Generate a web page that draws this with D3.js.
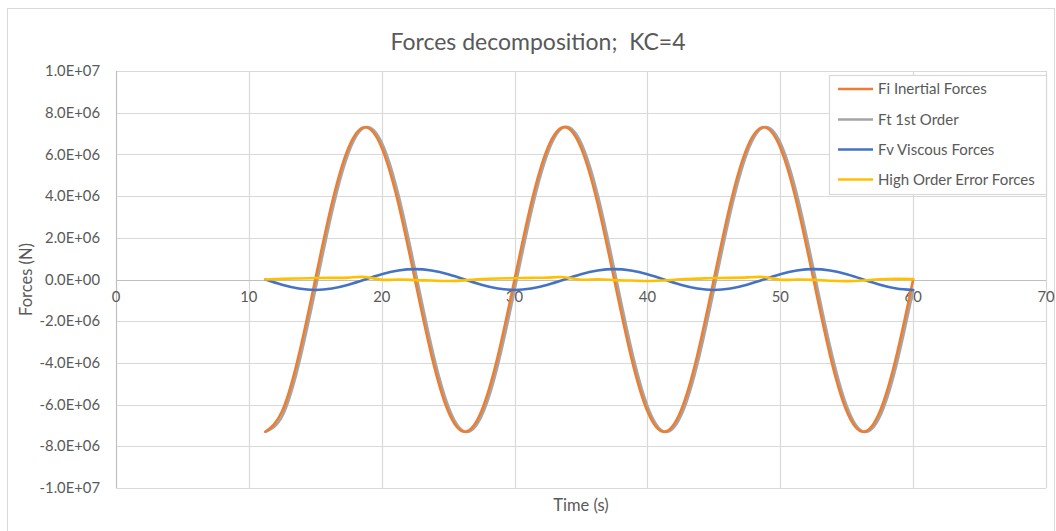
<!DOCTYPE html>
<html>
<head>
<meta charset="utf-8">
<script src="https://cdn.jsdelivr.net/npm/d3@7"></script>
<style>
  html, body { margin: 0; padding: 0; background: #ffffff; }
  svg { display: block; font-family: Lato, "Open Sans", sans-serif; }
</style>
</head>
<body>
<svg id="chart" width="1056" height="531"></svg>
<script>
// Time samples (s)
const time = [11.25, 12.5, 13.75, 15, 16.25, 17.5, 18.75, 20, 21.25, 22.5, 23.75, 25,
  26.25, 27.5, 28.75, 30, 31.25, 32.5, 33.75, 35, 36.25, 37.5, 38.75, 40,
  41.25, 42.5, 43.75, 45, 46.25, 47.5, 48.75, 50, 51.25, 52.5, 53.75, 55,
  56.25, 57.5, 58.75, 60];

// Forces, in MN
const inertial = [-7.30, -6.32, -3.65, 0.00, 3.65, 6.32, 7.30, 6.32, 3.65, 0.00, -3.65, -6.32,
  -7.30, -6.32, -3.65, 0.00, 3.65, 6.32, 7.31, 6.32, 3.65, 0.00, -3.65, -6.32,
  -7.30, -6.32, -3.65, 0.00, 3.65, 6.32, 7.30, 6.32, 3.65, 0.00, -3.65, -6.32,
  -7.30, -6.32, -3.65, 0.00];
const firstOrder = [-7.30, -6.57, -4.08, -0.50, 3.22, 6.07, 7.30, 6.57, 4.08, 0.50, -3.22, -6.07,
  -7.30, -6.57, -4.08, -0.50, 3.22, 6.07, 7.31, 6.57, 4.08, 0.50, -3.22, -6.07,
  -7.30, -6.57, -4.08, -0.50, 3.22, 6.07, 7.30, 6.57, 4.08, 0.50, -3.22, -6.07,
  -7.30, -6.57, -4.08, -0.50];
const viscous = [0.00, -0.25, -0.43, -0.50, -0.43, -0.25, 0.00, 0.25, 0.43, 0.50, 0.43, 0.25,
  0.00, -0.25, -0.43, -0.50, -0.43, -0.25, 0.00, 0.25, 0.43, 0.50, 0.43, 0.25,
  0.00, -0.25, -0.43, -0.50, -0.43, -0.25, 0.00, 0.25, 0.43, 0.50, 0.43, 0.25,
  0.00, -0.25, -0.43, -0.50];
const highOrder = [0.00, 0.03, 0.05, 0.07, 0.08, 0.09, 0.12, -0.01, 0.00, -0.03, -0.05, -0.07,
  -0.04, 0.02, 0.05, 0.06, 0.08, 0.09, 0.11, -0.01, 0.01, -0.03, -0.05, -0.07,
  -0.05, 0.01, 0.04, 0.07, 0.08, 0.10, 0.12, -0.01, 0.00, -0.02, -0.06, -0.08,
  -0.05, 0.01, 0.03, 0.02];

const seriesNames = ["Fi Inertial Forces", "Ft 1st Order", "Fv Viscous Forces", "High Order Error Forces"];
const seriesColors = ["#ED7D31", "#A5A5A5", "#4472C4", "#FFC000"];

const xTicks = [0, 10, 20, 30, 40, 50, 60, 70];
const yTicks = [-1e7, -8e6, -6e6, -4e6, -2e6, 0, 2e6, 4e6, 6e6, 8e6, 1e7];
const yTickLabels = ["-1.0E+07", "-8.0E+06", "-6.0E+06", "-4.0E+06", "-2.0E+06", "0.0E+00",
  "2.0E+06", "4.0E+06", "6.0E+06", "8.0E+06", "1.0E+07"];

const MN = 1e6;
const svg = d3.select("#chart");
const textColor = "#595959";
const gridColor = "#D9D9D9";

// chart frame
svg.append("rect")
  .attr("x", 7.5).attr("y", 8.5).attr("width", 1047).attr("height", 530)
  .attr("fill", "#fff").attr("stroke", gridColor).attr("stroke-width", 1);

const x = d3.scaleLinear().domain([0, 70]).range([116, 1046]);
const y = d3.scaleLinear().domain([-1e7, 1e7]).range([488, 71]);

// title
svg.append("text")
  .attr("x", 538).attr("y", 50)
  .attr("text-anchor", "middle")
  .attr("fill", textColor)
  .style("font-size", "23px")
  .style("white-space", "pre")
  .text("Forces decomposition;  KC=4");

// horizontal gridlines
svg.append("g").selectAll("line").data(yTicks).join("line")
  .attr("x1", x(0)).attr("x2", x(70))
  .attr("y1", d => Math.round(y(d)) + 0.5).attr("y2", d => Math.round(y(d)) + 0.5)
  .attr("stroke", gridColor).attr("stroke-width", 1.2);

// vertical gridlines
svg.append("g").selectAll("line").data(xTicks.slice(1)).join("line")
  .attr("x1", d => Math.round(x(d)) + 0.5).attr("x2", d => Math.round(x(d)) + 0.5)
  .attr("y1", y(1e7)).attr("y2", y(-1e7))
  .attr("stroke", gridColor).attr("stroke-width", 1.2);

// value axis line
svg.append("line")
  .attr("x1", x(0) + 0.5).attr("x2", x(0) + 0.5)
  .attr("y1", y(1e7)).attr("y2", y(-1e7))
  .attr("stroke", "#BFBFBF").attr("stroke-width", 1.2);

// category axis line at zero
svg.append("line")
  .attr("x1", x(0)).attr("x2", x(70))
  .attr("y1", Math.round(y(0)) + 0.5).attr("y2", Math.round(y(0)) + 0.5)
  .attr("stroke", "#BFBFBF").attr("stroke-width", 1.2);

// y tick labels
svg.append("g").selectAll("text").data(yTicks).join("text")
  .attr("x", 100).attr("y", d => y(d))
  .attr("dy", "0.35em")
  .attr("text-anchor", "end")
  .attr("fill", textColor)
  .style("font-size", "14.8px")
  .text((d, i) => yTickLabels[i]);

// x tick labels
svg.append("g").selectAll("text").data(xTicks).join("text")
  .attr("x", d => x(d)).attr("y", y(0) + 22)
  .attr("text-anchor", "middle")
  .attr("fill", textColor)
  .style("font-size", "14.8px")
  .text(d => d);

// axis titles
svg.append("text")
  .attr("transform", `translate(32, ${y(0)}) rotate(-90)`)
  .attr("text-anchor", "middle")
  .attr("fill", textColor)
  .style("font-size", "16.5px")
  .text("Forces (N)");

svg.append("text")
  .attr("x", 581).attr("y", 511)
  .attr("text-anchor", "middle")
  .attr("fill", textColor)
  .style("font-size", "16.5px")
  .text("Time (s)");

// series lines
const allSeries = [inertial, firstOrder, viscous, highOrder];
const line = d3.line()
  .x((d, i) => x(time[i]))
  .y(d => y(d * MN))
  .curve(d3.curveNatural);

// first-order total sits beneath the inertial curve
const drawOrder = [1, 0, 2, 3];
const plot = svg.append("g");
drawOrder.forEach(si => {
  plot.append("path")
    .datum(allSeries[si])
    .attr("d", line)
    .attr("fill", "none")
    .attr("stroke", seriesColors[si])
    .attr("stroke-width", 2.6)
    .attr("stroke-linejoin", "round")
    .attr("stroke-linecap", "round");
});

// legend
const legend = svg.append("g");
legend.append("rect")
  .attr("x", 829.5).attr("y", 75.5).attr("width", 217).attr("height", 119)
  .attr("fill", "#fff").attr("stroke", gridColor).attr("stroke-width", 1.2);
const legendY = [89, 119.5, 149.5, 179.5];
seriesNames.forEach((name, i) => {
  legend.append("line")
    .attr("x1", 838).attr("x2", 873)
    .attr("y1", legendY[i]).attr("y2", legendY[i])
    .attr("stroke", seriesColors[i]).attr("stroke-width", 2.6);
  legend.append("text")
    .attr("x", 878).attr("y", legendY[i])
    .attr("dy", "0.35em")
    .attr("fill", textColor)
    .style("font-size", "15px")
    .text(name);
});
</script>
</body>
</html>
